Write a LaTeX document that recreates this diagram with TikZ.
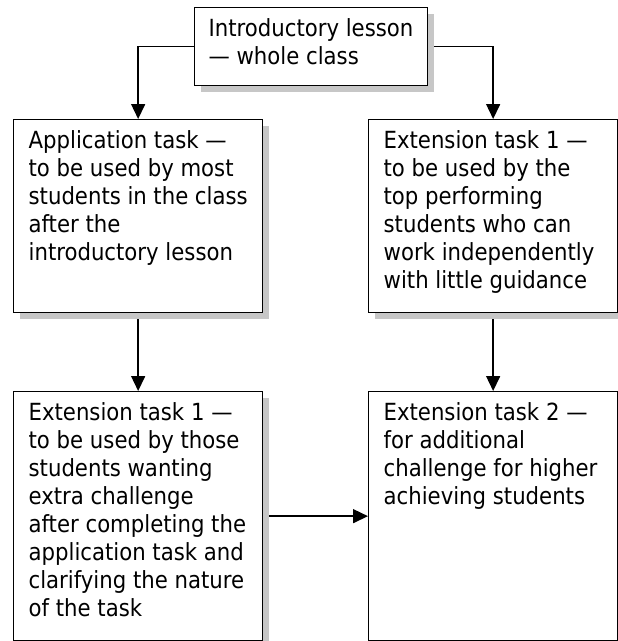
\documentclass[tikz,border=0pt]{standalone}
\usepackage{fontspec}
\setmainfont{DejaVu Sans Condensed}
\usetikzlibrary{arrows.meta,shadows}

\begin{document}
\begin{tikzpicture}[x=1pt, y=-1pt,
  taskbox/.style 2 args={draw, fill=white, line width=1.3pt, anchor=north west, inner xsep=15pt, inner ysep=11pt,
    font=\fontsize{23.6}{28}\selectfont,
    drop shadow={shadow xshift=6pt, shadow yshift=-6pt, fill=black!22, opacity=1},
    execute at begin node={\begin{minipage}[t][#2][t]{#1}\raggedright},
    execute at end node={\end{minipage}}},
  conn/.style={line width=1.5pt, -{Triangle[length=15pt, width=14pt]}}]
  \useasboundingbox (0,0) rectangle (618,641);
  \node[taskbox={205pt}{56pt}, inner xsep=14pt] (intro) at (194,7) {Introductory lesson\\ — whole class};
  \node[taskbox={219pt}{171pt}] (app) at (13,119) {Application task —\\ to be used by most\\ students in the class\\ after the\\ introductory lesson};
  \node[taskbox={219pt}{171pt}] (ext1top) at (368,119) {Extension task 1 —\\ to be used by the\\ top performing\\ students who can\\ work independently\\ with little guidance};
  \node[taskbox={219pt}{227pt}] (ext1low) at (13,391) {Extension task 1 —\\ to be used by those\\ students wanting\\ extra challenge\\ after completing the\\ application task and\\ clarifying the nature\\ of the task};
  \node[taskbox={219pt}{227pt}] (ext2) at (368,391) {Extension task 2 —\\ for additional\\ challenge for higher\\ achieving students};
  % connectors
  \draw[conn] (intro.west) -| (app.north);
  \draw[conn, shorten <=6pt] (intro.east) -| (ext1top.north);
  \draw[conn, shorten <=6pt] (app.south) -- (ext1low.north);
  \draw[conn, shorten <=6pt] (ext1top.south) -- (ext2.north);
  \draw[conn, shorten <=6pt] (ext1low.east) -- (ext2.west);
\end{tikzpicture}
\end{document}
